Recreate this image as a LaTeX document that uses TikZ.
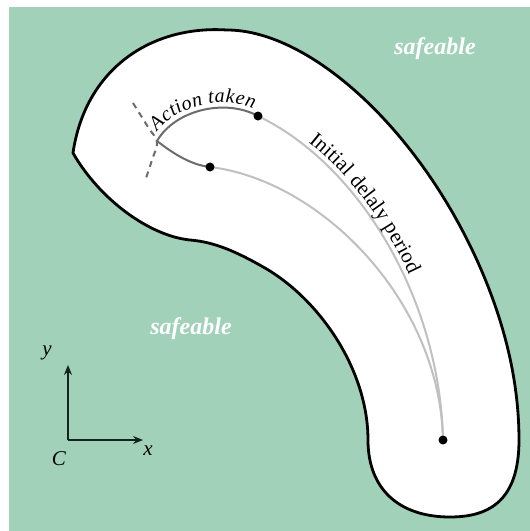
\documentclass[tikz,border=0pt]{standalone}
\usepackage{fontspec}
\setmainfont{Liberation Serif}
\usetikzlibrary{decorations.text,arrows.meta}
\definecolor{safegreen}{RGB}{161,210,185}
\definecolor{darkline}{RGB}{108,108,108}
\definecolor{lightline}{RGB}{192,192,192}
\definecolor{axiscol}{RGB}{20,35,28}
\tikzset{
  boundary/.style={fill=white, draw=black, line width=2.8pt, line join=round},
  acttraj/.style={draw=darkline, line width=2pt},
  delaytraj/.style={draw=lightline, line width=2pt},
  surface/.style={draw=darkline, line width=2pt, dash pattern=on 6pt off 5pt},
  dotmark/.style={fill=black},
  safelabel/.style={text=white, font=\fontsize{24}{27}\selectfont\bfseries\itshape},
  axislabel/.style={text=black, font=\fontsize{21}{24}\selectfont\itshape},
  axisarrow/.style={draw=axiscol, line width=1.3pt, -{Stealth[length=10pt,width=8pt]}}
}
\begin{document}
\begin{tikzpicture}[x=1pt,y=-1pt]
\useasboundingbox (0,0) rectangle (530,531);
\fill[safegreen] (9,7) rectangle (530,531);
% outline of the region
\path[boundary] (73,153) .. controls (85,70) and (150,25) .. (227,30)
  .. controls (310,30) and (420,130) .. (480,267)
  .. controls (504,322) and (519,380) .. (519,440)
  .. controls (519,500) and (490,517) .. (450,517)
  .. controls (400,517) and (368,490) .. (368,440)
  .. controls (368,370) and (320,300) .. (265,268)
  .. controls (237,252) and (215,242) .. (190,240)
  .. controls (150,236) and (100,200) .. (73,153) -- cycle;
% named points
\coordinate (P) at (157,141);
\coordinate (U) at (258,116);
\coordinate (L) at (210,167);
\coordinate (B) at (443,440);
% dashed surface through the pivot
\draw[surface] plot[smooth, tension=0.6] coordinates {(133,103) (148,127) (157,142) (152,160) (145,181)};
% delay trajectories
\draw[delaytraj] (U) .. controls (360,165) and (440,300) .. (B);
\draw[delaytraj] (L) .. controls (320,180) and (440,300) .. (B);
% action taken
\draw[acttraj] (P) .. controls (175,110) and (225,98) .. (U);
\draw[acttraj] (P) .. controls (175,155) and (192,165) .. (L);
% texts along paths
\path[decorate, decoration={text along path, text={|\fontsize{20}{23}\selectfont\itshape|Action taken}, text align=center, raise=5pt}]
  (P) .. controls (175,110) and (225,98) .. (U);
\path[decorate, decoration={text along path, text={|\fontsize{21}{24}\selectfont|Initial delaly period}, text align={left, left indent=56pt}, raise=5pt}]
  (U) .. controls (360,165) and (440,300) .. (B);
% dots
\fill[dotmark] (U) circle (4.5pt);
\fill[dotmark] (L) circle (4.5pt);
\fill[dotmark] (B) circle (4.5pt);
% region labels
\node[safelabel] (s1) at (435,49) {safeable};
\node[safelabel] (s2) at (191,329) {safeable};
% frame C
\coordinate (O) at (68,440);
\coordinate (Xe) at (143,440);
\coordinate (Ye) at (68,365);
\draw[axisarrow] (O) -- (Xe);
\draw[axisarrow] (O) -- (Ye);
\node[axislabel] (xl) at (148,451) {x};
\node[axislabel] (yl) at (47,353) {y};
\node[axislabel] (cl) at (59,459) {C};
\end{tikzpicture}
\end{document}
